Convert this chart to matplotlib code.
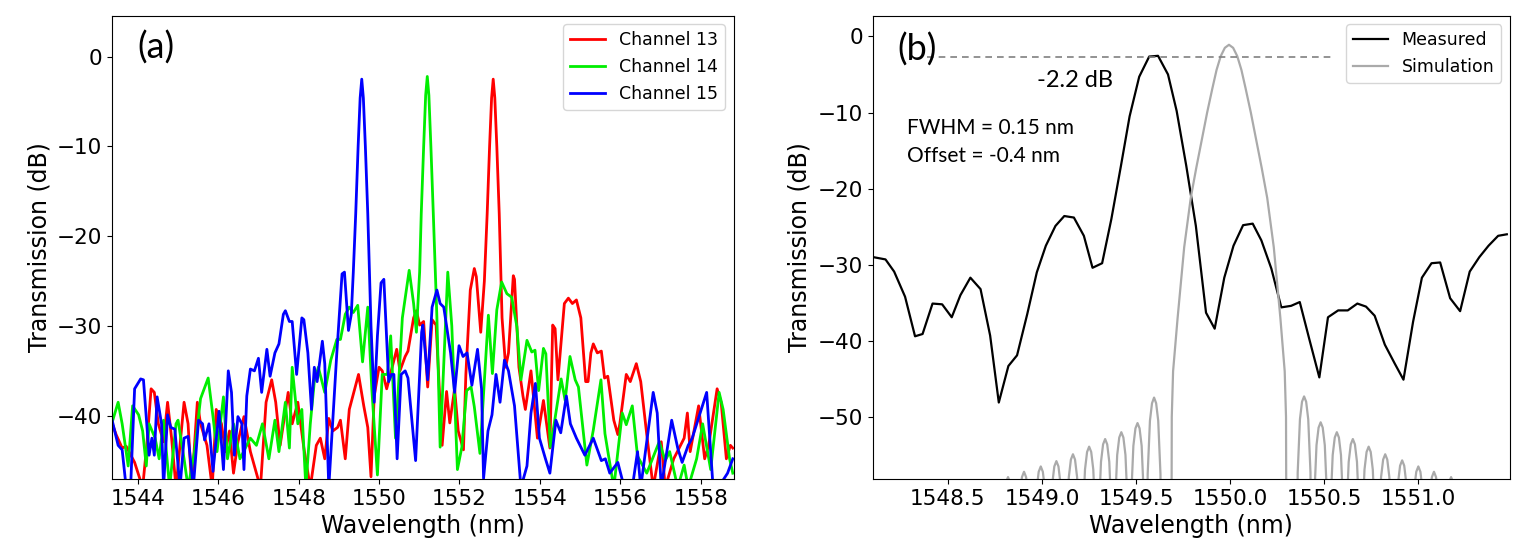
import matplotlib
matplotlib.use("Agg")
import matplotlib.pyplot as plt

# ---------------- Panel (a) data ----------------
ch13_x = [1543.35,1543.46,1543.61,1543.71,1543.92,1544.12,1544.23,1544.33,1544.41,1544.51,1544.64,1544.74,1544.84,1544.95,
          1545.15,1545.25,1545.34,1545.48,1545.56,1545.72,1545.85,1545.95,1546.08,1546.18,1546.28,1546.38,1546.49,1546.64,
          1546.80,1547.05,1547.19,1547.33,1547.43,1547.54,1547.74,1547.84,1547.98,1548.13,1548.29,1548.44,1548.54,1548.65,
          1548.75,1548.85,1548.97,1549.04,1549.16,1549.26,1549.49,1549.62,1549.72,1549.80,1549.88,1550.00,1550.08,1550.19,
          1550.44,1550.52,1550.65,1550.72,1550.86,1550.93,1551.01,1551.11,1551.21,1551.32,1551.42,1551.57,1551.68,1551.76,
          1551.88,1551.97,1552.10,1552.16,1552.27,1552.37,1552.42,1552.53,1552.62,1552.69,1552.75,1552.80,1552.84,1552.88,
          1552.93,1552.99,1553.06,1553.15,1553.22,1553.34,1553.37,1553.48,1553.58,1553.64,1553.78,1553.94,1554.09,1554.25,
          1554.32,1554.38,1554.45,1554.61,1554.71,1554.81,1554.91,1555.02,1555.14,1555.20,1555.27,1555.33,1555.43,1555.53,
          1555.61,1555.69,1555.84,1555.94,1555.99,1556.15,1556.25,1556.40,1556.51,1556.66,1556.82,1557.02,1557.12,1557.33,
          1557.59,1557.67,1557.74,1557.95,1558.10,1558.20,1558.41,1558.51,1558.64,1558.74,1558.80]
ch13_y = [-40.7,-42.1,-43.6,-43.4,-45.2,-48,-42.9,-37.0,-37.4,-40.9,-42.9,-38.5,-42.5,-48,
          -38.5,-40.9,-48,-38.5,-40.9,-43.3,-48,-39.3,-40.9,-44.0,-41.7,-46.4,-42.9,-40.1,
          -44.0,-48,-38.5,-36.0,-38.5,-43.3,-37.4,-40.9,-38.5,-43.6,-48,-43.3,-42.5,-44.8,
          -40.3,-41.7,-41.3,-40.5,-44.8,-39.3,-35.4,-38.9,-41.3,-46.8,-37.8,-34.6,-35.0,-37.0,
          -32.6,-35.0,-33.4,-32.8,-29.1,-28.3,-29.9,-29.5,-36.8,-29.3,-29.9,-43.3,-37.3,-40.8,
          -37.0,-41.7,-43.8,-35.4,-26.0,-23.6,-24.5,-30.7,-25.0,-17.5,-10.0,-4.6,-2.5,-4.6,
          -10.0,-17.5,-29.1,-34.6,-33.0,-24.4,-24.8,-34.6,-37.8,-39.3,-35.0,-42.5,-38.3,-43.6,
          -29.9,-30.3,-36.0,-27.5,-26.9,-27.5,-27.1,-29.1,-36.2,-36.2,-33.0,-32.0,-33.0,-32.8,
          -35.8,-35.6,-40.5,-42.1,-40.9,-35.4,-36.2,-34.2,-36.2,-42.1,-48,-42.9,-48,-44.8,
          -42.5,-39.7,-44.0,-38.9,-44.8,-43.3,-37.0,-38.5,-44.8,-43.3,-43.6]

ch14_x = [1543.35,1543.51,1543.61,1543.76,1543.87,1544.02,1544.12,1544.21,1544.28,1544.43,1544.53,1544.64,1544.79,1544.95,
          1545.00,1545.15,1545.25,1545.41,1545.56,1545.75,1545.87,1545.97,1546.13,1546.23,1546.38,1546.54,1546.80,1546.95,
          1547.10,1547.26,1547.41,1547.51,1547.67,1547.77,1547.84,1547.98,1548.08,1548.18,1548.29,1548.39,1548.49,1548.65,
          1548.80,1548.95,1549.04,1549.16,1549.26,1549.36,1549.47,1549.59,1549.72,1549.82,1549.96,1550.08,1550.21,1550.29,
          1550.41,1550.58,1550.75,1550.86,1550.93,1551.01,1551.05,1551.11,1551.16,1551.20,1551.24,1551.29,1551.35,1551.44,
          1551.52,1551.71,1551.81,1551.95,1552.06,1552.18,1552.29,1552.37,1552.51,1552.72,1552.82,1552.93,1553.05,1553.18,
          1553.30,1553.43,1553.53,1553.68,1553.80,1553.88,1553.97,1554.09,1554.15,1554.26,1554.34,1554.53,1554.63,1554.75,
          1554.88,1554.96,1555.17,1555.33,1555.52,1555.62,1555.70,1555.84,1556.05,1556.15,1556.30,1556.43,1556.66,1556.97,
          1557.12,1557.23,1557.43,1557.59,1557.69,1557.90,1558.05,1558.25,1558.46,1558.56,1558.72,1558.80]
ch14_y = [-40.9,-38.5,-40.9,-45.6,-38.9,-39.9,-41.7,-45.6,-40.9,-42.5,-44.8,-40.5,-48,-40.9,
          -40.5,-44.8,-48,-44.0,-38.1,-35.8,-40.1,-44.0,-37.9,-44.8,-40.9,-44.8,-42.5,-43.3,
          -40.9,-44.8,-40.5,-44.0,-38.5,-43.6,-34.6,-40.9,-39.3,-48,-40.9,-36.2,-34.6,-37.4,
          -33.8,-31.5,-31.5,-28.7,-27.9,-28.5,-27.7,-34.0,-27.9,-37.0,-46.6,-35.4,-35.4,-31.1,
          -42.5,-29.1,-23.8,-27.5,-30.7,-24.0,-17.5,-10.0,-4.3,-2.2,-4.3,-10.0,-17.5,-29.1,
          -43.5,-24.0,-30.0,-46.0,-43.5,-37.2,-36.8,-39.0,-44.2,-28.8,-35.3,-28.2,-25.1,-26.4,
          -26.8,-30.1,-36.0,-31.6,-32.9,-32.7,-37.2,-32.5,-33.1,-43.5,-41.4,-35.9,-38.3,-33.4,
          -36.0,-36.8,-45.5,-41.6,-36.0,-42.0,-44.2,-48,-39.7,-41.0,-38.9,-44.5,-46.4,-42.9,
          -45.0,-44.0,-48,-45.5,-48,-44.8,-40.9,-46.0,-37.4,-39.3,-44.8,-46.4]

ch15_x = [1543.35,1543.51,1543.61,1543.71,1543.82,1543.92,1544.07,1544.14,1544.28,1544.35,1544.41,1544.48,1544.59,1544.64,
          1544.74,1544.82,1544.92,1545.05,1545.15,1545.25,1545.38,1545.51,1545.61,1545.66,1545.77,1545.87,1546.02,1546.13,
          1546.25,1546.33,1546.40,1546.49,1546.59,1546.64,1546.71,1546.80,1546.90,1547.00,1547.08,1547.21,1547.29,1547.41,
          1547.51,1547.62,1547.67,1547.77,1547.84,1547.95,1548.08,1548.13,1548.23,1548.32,1548.39,1548.46,1548.59,1548.65,
          1548.75,1548.95,1549.08,1549.14,1549.24,1549.31,1549.36,1549.42,1549.48,1549.53,1549.57,1549.61,1549.66,1549.72,
          1549.80,1549.88,1549.96,1550.05,1550.12,1550.24,1550.31,1550.37,1550.45,1550.55,1550.65,1550.72,1550.91,1551.06,
          1551.09,1551.21,1551.32,1551.44,1551.52,1551.61,1551.78,1551.88,1551.99,1552.09,1552.19,1552.31,1552.45,1552.55,
          1552.60,1552.71,1552.81,1552.91,1553.01,1553.12,1553.22,1553.37,1553.53,1553.68,1553.78,1553.89,1553.99,1554.14,
          1554.25,1554.40,1554.52,1554.66,1554.76,1554.91,1555.12,1555.33,1555.53,1555.63,1555.74,1555.94,1556.10,1556.30,
          1556.43,1556.51,1556.82,1556.92,1557.02,1557.28,1557.43,1557.54,1557.69,1557.79,1558.15,1558.31,1558.51,1558.67,
          1558.80]
ch15_y = [-40.3,-43.3,-43.8,-48,-48,-37.0,-35.9,-36.0,-44.4,-42.5,-44.4,-37.9,-40.9,-48,
          -39.9,-41.3,-41.5,-48,-42.5,-42.3,-48,-40.5,-40.9,-42.7,-40.9,-46.2,-39.5,-46.0,
          -35.0,-37.4,-44.4,-40.1,-40.9,-46.0,-37.8,-34.8,-35.0,-33.6,-37.4,-32.6,-35.6,-33.0,
          -32.0,-28.7,-28.3,-29.5,-29.5,-35.4,-29.1,-29.3,-33.0,-39.3,-34.6,-36.2,-31.7,-34.2,
          -48,-33.0,-24.2,-24.0,-30.5,-28.7,-24.0,-17.5,-10.0,-4.6,-2.5,-4.6,-10.0,-17.5,
          -30.0,-38.5,-31.1,-25.2,-24.8,-36.2,-35.4,-35.4,-44.8,-35.4,-35.0,-35.8,-45.0,-30.7,
          -29.9,-36.0,-27.9,-26.0,-27.5,-27.9,-33.0,-37.4,-32.2,-33.4,-33.0,-36.6,-32.6,-37.0,
          -47.0,-41.7,-39.9,-35.4,-38.5,-33.8,-35.0,-38.9,-48,-45.6,-39.7,-36.4,-42.5,-44.8,
          -46.4,-40.5,-41.9,-37.8,-40.9,-42.5,-44.4,-42.5,-45.0,-44.8,-46.4,-45.2,-48,-48,
          -44.0,-48,-37.4,-39.7,-48,-40.5,-43.6,-45.2,-43.3,-42.5,-37.4,-48,-47.5,-46.4,
          -44.8]

# ---------------- Panel (b) data ----------------
meas_x = [1548.104,1548.169,1548.215,1548.273,1548.326,1548.366,1548.419,1548.470,1548.521,1548.567,1548.620,1548.674,
          1548.725,1548.771,1548.822,1548.868,1548.922,1548.973,1549.021,1549.072,1549.119,1549.170,1549.223,1549.269,
          1549.320,1549.369,1549.420,1549.466,1549.517,1549.570,1549.617,1549.670,1549.716,1549.767,1549.818,1549.872,
          1549.918,1549.969,1550.018,1550.069,1550.120,1550.166,1550.219,1550.272,1550.324,1550.370,1550.421,1550.474,
          1550.520,1550.574,1550.625,1550.676,1550.722,1550.768,1550.822,1550.875,1550.921,1550.972,1551.019,1551.070,
          1551.116,1551.169,1551.222,1551.273,1551.324,1551.373,1551.424,1551.470]
meas_y = [-29.0,-29.3,-30.9,-34.2,-39.4,-39.1,-35.1,-35.2,-36.9,-34.0,-31.7,-33.2,
          -39.3,-48.1,-43.3,-41.9,-36.5,-31.0,-27.5,-24.9,-23.6,-23.8,-26.2,-30.4,
          -29.8,-24.0,-17.0,-10.5,-5.3,-2.65,-2.55,-5.0,-9.8,-17.0,-24.9,-36.3,
          -38.4,-31.7,-27.5,-24.8,-24.6,-26.8,-30.5,-35.6,-35.4,-34.9,-39.8,-44.8,
          -36.9,-36.0,-36.0,-35.1,-35.5,-36.7,-40.5,-43.0,-45.1,-37.5,-31.7,-29.8,
          -29.7,-34.4,-36.1,-30.9,-29.0,-27.5,-26.2,-26.0]

sim_x = [1548.777,1548.786,1548.798,1548.809,1548.820,1548.831,1548.842,1548.854,1548.862,
         1548.871,1548.883,1548.894,1548.905,1548.916,1548.927,1548.939,1548.949,
         1548.960,1548.972,1548.983,1548.994,1549.005,1549.016,1549.028,1549.036,
         1549.043,1549.055,1549.066,1549.077,1549.088,1549.099,1549.111,1549.121,
         1549.131,1549.143,1549.154,1549.165,1549.176,1549.187,1549.199,1549.208,
         1549.217,1549.229,1549.240,1549.251,1549.262,1549.273,1549.285,1549.294,
         1549.302,1549.314,1549.325,1549.336,1549.347,1549.358,1549.370,1549.379,
         1549.388,1549.400,1549.411,1549.422,1549.433,1549.444,1549.456,1549.465,
         1549.474,1549.486,1549.497,1549.508,1549.519,1549.530,1549.542,1549.552,
         1549.562,1549.574,1549.585,1549.596,1549.607,1549.618,1549.630,1549.639,
         1549.686,1549.690,1549.697,1549.721,1549.756,1549.791,1549.820,1549.848,1549.878,1549.906,
         1549.928,1549.950,1549.972,1549.994,
         1550.016,1550.038,1550.060,1550.082,1550.110,1550.140,1550.168,1550.197,1550.232,1550.267,
         1550.290,1550.297,1550.302,
         1550.350,1550.359,1550.371,1550.382,1550.393,1550.404,1550.415,1550.427,1550.437,
         1550.447,1550.459,1550.470,1550.481,1550.492,1550.503,1550.515,1550.524,
         1550.533,1550.545,1550.556,1550.567,1550.578,1550.589,1550.601,1550.610,
         1550.618,1550.630,1550.641,1550.652,1550.663,1550.674,1550.686,1550.694,
         1550.702,1550.714,1550.725,1550.736,1550.747,1550.758,1550.770,1550.780,
         1550.790,1550.802,1550.813,1550.824,1550.835,1550.846,1550.858,1550.869,
         1550.880,1550.892,1550.903,1550.914,1550.925,1550.936,1550.948,1550.957,
         1550.966,1550.978,1550.989,1551.000,1551.011,1551.022,1551.034,1551.042,
         1551.049,1551.061,1551.072,1551.083,1551.094,1551.105,1551.117,1551.128,
         1551.140,1551.152,1551.163,1551.174,1551.185,1551.196,1551.208,1551.217]
sim_y = [-95,-67.9,-60.9,-58.6,-57.9,-58.6,-60.9,-67.9,-95,
         -67.2,-60.2,-57.9,-57.2,-57.9,-60.2,-67.2,-95,
         -66.5,-59.5,-57.2,-56.5,-57.2,-59.5,-66.5,-95,
         -65.8,-58.8,-56.5,-55.8,-56.5,-58.8,-65.8,-95,
         -64.9,-57.9,-55.6,-54.9,-55.6,-57.9,-64.9,-95,
         -63.9,-56.9,-54.6,-53.9,-54.6,-56.9,-63.9,-95,
         -62.9,-55.9,-53.6,-52.9,-53.6,-55.9,-62.9,-95,
         -62.0,-55.0,-52.7,-52.0,-52.7,-55.0,-62.0,-95,
         -60.8,-53.8,-51.5,-50.8,-51.5,-53.8,-60.8,-95,
         -57.5,-50.5,-48.2,-47.45,-48.2,-50.5,-57.5,-95,
         -95,-50,-44,-37.0,-27.7,-21.2,-17.3,-13.8,-10.0,-6.8,
         -4.4,-2.6,-1.5,-1.1,
         -1.5,-2.6,-4.4,-6.8,-10.0,-13.8,-17.3,-21.2,-27.7,-37.0,
         -44,-50,-95,
         -95,-57.3,-50.3,-48.0,-47.3,-48.0,-50.3,-57.3,-95,
         -60.7,-53.7,-51.4,-50.7,-51.4,-53.7,-60.7,-95,
         -62.0,-55.0,-52.7,-52.0,-52.7,-55.0,-62.0,-95,
         -62.9,-55.9,-53.6,-52.9,-53.6,-55.9,-62.9,-95,
         -63.9,-56.9,-54.6,-53.9,-54.6,-56.9,-63.9,-95,
         -64.9,-57.9,-55.6,-54.9,-55.6,-57.9,-64.9,-95,
         -65.7,-58.7,-56.4,-55.7,-56.4,-58.7,-65.7,-95,
         -66.5,-59.5,-57.2,-56.5,-57.2,-59.5,-66.5,-95,
         -67.2,-60.2,-57.9,-57.2,-57.9,-60.2,-67.2,-95,
         -67.9,-60.9,-58.6,-57.9,-58.6,-60.9,-67.9,-95]

ref_x = [1548.39, 1550.54]
ref_y = [-2.65, -2.65]

xticks_a = [1544, 1546, 1548, 1550, 1552, 1554, 1556, 1558]
xticks_b = [1548.5, 1549.0, 1549.5, 1550.0, 1550.5, 1551.0]
yticks_a = [0, -10, -20, -30, -40]
yticks_b = [0, -10, -20, -30, -40, -50]

ANN = ['Lato', 'DejaVu Sans']

fig = plt.figure(figsize=(15.27, 5.54), dpi=100)
bot = 1 - 479 / 554
hgt = 463.3 / 554
ax1 = fig.add_axes([111.7 / 1527, bot, 621.9 / 1527, hgt])
ax2 = fig.add_axes([872.5 / 1527, bot, 637.5 / 1527, hgt])

lw_c = 2.0
ax1.plot(ch13_x, ch13_y, color='#ff0000', lw=lw_c, label='Channel 13')
ax1.plot(ch14_x, ch14_y, color='#00ee00', lw=lw_c, label='Channel 14')
ax1.plot(ch15_x, ch15_y, color='#0000ff', lw=lw_c, label='Channel 15')
ax1.set_xlim(1543.35, 1558.82)
ax1.set_ylim(-47.05, 4.57)
ax1.set_xticks(xticks_a)
ax1.set_yticks(yticks_a)
ax1.set_xlabel('Wavelength (nm)', fontsize=17)
ax1.set_ylabel('Transmission (dB)', fontsize=17)
ax1.tick_params(labelsize=15.5)
ax1.legend(loc='upper right', fontsize=12.5)
ax1.text(0.0712, 0.932, '(a)', transform=ax1.transAxes, fontsize=26,
         family=ANN, ha='center', va='center')

ax2.plot(meas_x, meas_y, color='black', lw=1.6, label='Measured')
ax2.plot(sim_x, sim_y, color='#aaaaaa', lw=1.6, label='Simulation')
ax2.plot(ref_x, ref_y, color='#808080', lw=1.2, ls=(0, (4, 3)))
ax2.set_xlim(1548.10, 1551.487)
ax2.set_ylim(-58.15, 2.72)
ax2.set_xticks(xticks_b)
ax2.set_xticklabels([f'{v:.1f}' for v in xticks_b])
ax2.set_yticks(yticks_b)
ax2.set_xlabel('Wavelength (nm)', fontsize=17)
ax2.set_ylabel('Transmission (dB)', fontsize=17)
ax2.tick_params(labelsize=15.5)
ax2.legend(loc='upper right', fontsize=12.5)
ax2.text(0.0698, 0.926, '(b)', transform=ax2.transAxes, fontsize=26,
         family=ANN, ha='center', va='center')
ax2.text(0.3176, 0.861, '-2.2 dB', transform=ax2.transAxes, fontsize=17,
         family=ANN, ha='center', va='center')
ax2.text(0.0544, 0.7576, 'FWHM = 0.15 nm', transform=ax2.transAxes, fontsize=15,
         family=ANN, ha='left', va='center')
ax2.text(0.0544, 0.697, 'Offset = -0.4 nm', transform=ax2.transAxes, fontsize=15,
         family=ANN, ha='left', va='center')

fig.savefig('out.png', dpi=100)
